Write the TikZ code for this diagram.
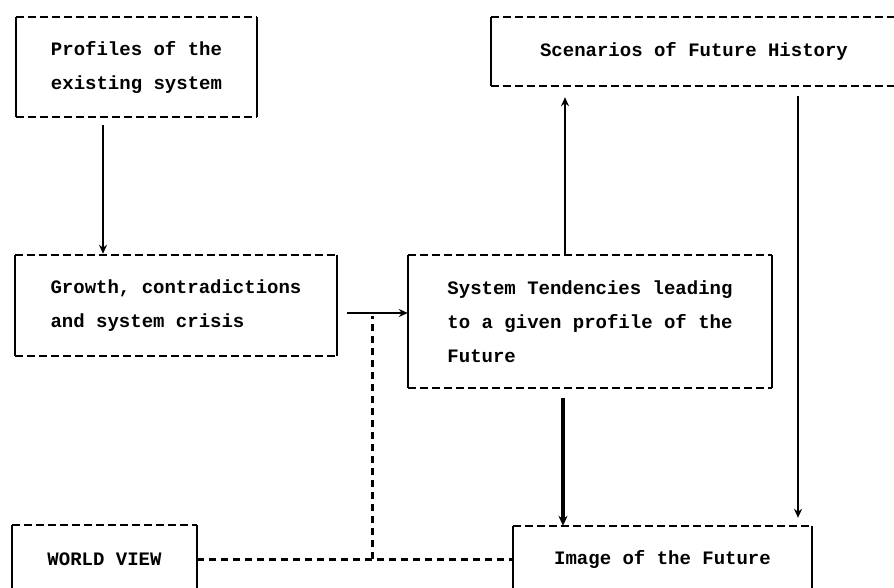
\documentclass[tikz,border=0pt]{standalone}
\usepackage{fontspec}
\setmonofont{Liberation Mono}
\usetikzlibrary{arrows.meta,calc}

% box with solid sides and dashed top and bottom edges
\newcommand\edgebox[1]{%
  \draw[sideline] (#1.north west) -- (#1.south west)
                  (#1.north east) -- (#1.south east);
  \draw[dashline] (#1.north west) -- (#1.north east)
                  (#1.south west) -- (#1.south east);}

\begin{document}
\begin{tikzpicture}[x=1pt,y=-1pt,
  tbox/.style={draw=none,inner sep=0pt,align=left,
    font=\ttfamily\bfseries\fontsize{19}{34}\selectfont},
  sideline/.style={line width=2.4pt},
  dashline/.style={line width=2pt,dash pattern=on 8pt off 4pt},
  flow/.style={line width=1.6pt,-{Stealth[length=9pt,width=8pt]}},
  heavyflow/.style={line width=3.2pt,-{Stealth[length=10pt,width=9pt]}},
  dotlink/.style={line width=3pt,dash pattern=on 7pt off 5pt}]

\useasboundingbox (0,0) rectangle (894,587);
\clip (0,0) rectangle (894,587);

% boxes
\node[tbox,minimum width=241pt,minimum height=100pt] (prof) at (136.5,67)
  {Profiles of the\\existing system};
\node[tbox,minimum width=406pt,minimum height=69pt] (scen) at (694,51.5)
  {Scenarios of Future History};
\node[tbox,minimum width=322pt,minimum height=101pt] (growth) at (176,305.5)
  {Growth, contradictions\\and system crisis};
\node[tbox,minimum width=364pt,minimum height=133pt] (sys) at (590,321.5)
  {System Tendencies leading\\to a given profile of the\\Future};
\node[tbox,minimum width=185pt,minimum height=68pt] (wv) at (104.5,559)
  {WORLD VIEW};
\node[tbox,minimum width=299pt,minimum height=66pt] (img) at (662.5,559)
  {Image of the Future};

\edgebox{prof}
\edgebox{scen}
\edgebox{growth}
\edgebox{sys}
\edgebox{wv}
\edgebox{img}

% connector columns
\coordinate (cA) at (103,0);
\coordinate (cB) at (565,0);
\coordinate (cC) at (798,0);
\coordinate (cD) at (563,0);
\coordinate (rA) at (0,313);
\coordinate (jtop) at (372,316);
\coordinate (jbot) at (372,559);

\draw[flow,shorten <=8pt,shorten >=1pt] (prof.south -| cA) -- (growth.north -| cA);
\draw[flow,shorten >=11pt] (sys.north -| cB) -- (scen.south -| cB);
\draw[flow,shorten <=10pt,shorten >=8pt] (scen.south -| cC) -- (img.north -| cC);
\draw[heavyflow,shorten <=10pt] (sys.south -| cD) -- (img.north -| cD);
\draw[flow,shorten <=10pt] (growth.east |- rA) -- (sys.west |- rA);

% world view link
\draw[dotlink] (wv.east) -- (img.west);
\draw[dotlink] (jbot) -- (jtop);

\end{tikzpicture}
\end{document}
